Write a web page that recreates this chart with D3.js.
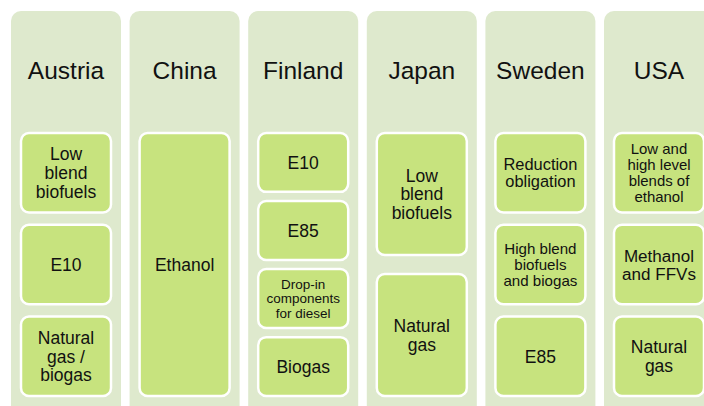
<!DOCTYPE html>
<html lang="en">
  <head>
    <meta charset="utf-8">
    <title>Alternative fuels by country</title>
    <style>
      body { margin: 0; background: #fff; }
      svg text { font-family: "Liberation Sans", Arial, sans-serif; fill: #111; }
    </style>
  </head>
  <body>
    <svg class="chart"></svg>

    <script src="https://d3js.org/d3.v7.min.js"></script>
    <script type="text/javascript">
      // countries (column headers) and the fuel boxes in each column, "\n" = line break
      var countries = ["Austria", "China", "Finland", "Japan", "Sweden", "USA"];
      var austria = ["Low\nblend\nbiofuels", "E10", "Natural\ngas /\nbiogas"];
      var china = ["Ethanol"];
      var finland = ["E10", "E85", "Drop-in\ncomponents\nfor diesel", "Biogas"];
      var japan = ["Low\nblend\nbiofuels", "Natural\ngas"];
      var sweden = ["Reduction\nobligation", "High blend\nbiofuels\nand biogas", "E85"];
      var usa = ["Low and\nhigh level\nblends of\nethanol", "Methanol\nand FFVs", "Natural\ngas"];
      var fuels = [austria, china, finland, japan, sweden, usa];

      var w = 704;
      var h = 406;

      var svg = d3.select('.chart')
                  .attr('width', w)
                  .attr('height', h);

      var x = d3.scaleBand()
                .domain(countries)
                .range([11, 714])
                .paddingInner(0.0725)
                .paddingOuter(0);

      var cols = svg.selectAll('g.col')
                    .data(countries)
                    .enter()
                    .append('g')
                    .attr('class', 'col')
                    .attr('transform', function(d) { return 'translate(' + x(d) + ',0)'; });

      cols.append('rect')
          .attr('x', 0)
          .attr('y', 11)
          .attr('width', x.bandwidth())
          .attr('height', 420)
          .attr('rx', 10)
          .attr('fill', '#dee9cd');

      cols.append('text')
          .attr('x', x.bandwidth() / 2)
          .attr('y', 79)
          .attr('text-anchor', 'middle')
          .style('font-size', '24.5px')
          .text(function(d) { return d; });

      var inset = 10;
      var boxW = x.bandwidth() - 2 * inset;
      var maxFont = 17.5;
      var lineH = 1.06;

      cols.each(function(country, ci) {
        var items = fuels[ci];
        var y = d3.scaleBand()
                  .domain(d3.range(items.length))
                  .range([133, 396])
                  .paddingInner(items.length > 1 ? 0.135 : 0)
                  .paddingOuter(0);

        var box = d3.select(this).selectAll('g.box')
                    .data(items)
                    .enter()
                    .append('g')
                    .attr('class', 'box')
                    .attr('transform', function(d, i) { return 'translate(' + inset + ',' + y(i) + ')'; });

        box.append('rect')
           .attr('width', boxW)
           .attr('height', y.bandwidth())
           .attr('rx', 8)
           .attr('fill', '#c7e37e')
           .attr('stroke', '#fff')
           .attr('stroke-width', 2.5);

        box.each(function(d) {
          var g = d3.select(this);
          var lines = d.split('\n');
          var t = g.append('text')
                   .attr('text-anchor', 'middle')
                   .style('font-size', maxFont + 'px');
          t.selectAll('tspan')
           .data(lines)
           .enter()
           .append('tspan')
           .attr('x', boxW / 2)
           .text(function(l) { return l; });

          // shrink text to fit the box, like the original autofit
          var widest = 0;
          t.selectAll('tspan').each(function() {
            widest = Math.max(widest, this.getComputedTextLength());
          });
          var fs = Math.min(maxFont,
                            maxFont * 74 / widest,
                            (y.bandwidth() - 16) / (lines.length * lineH));
          t.style('font-size', fs + 'px');

          var cy = y.bandwidth() / 2;
          t.selectAll('tspan')
           .attr('y', function(l, i) {
             return cy + (i - (lines.length - 1) / 2) * fs * lineH + 0.36 * fs;
           });
        });
      });
    </script>
  </body>
</html>
